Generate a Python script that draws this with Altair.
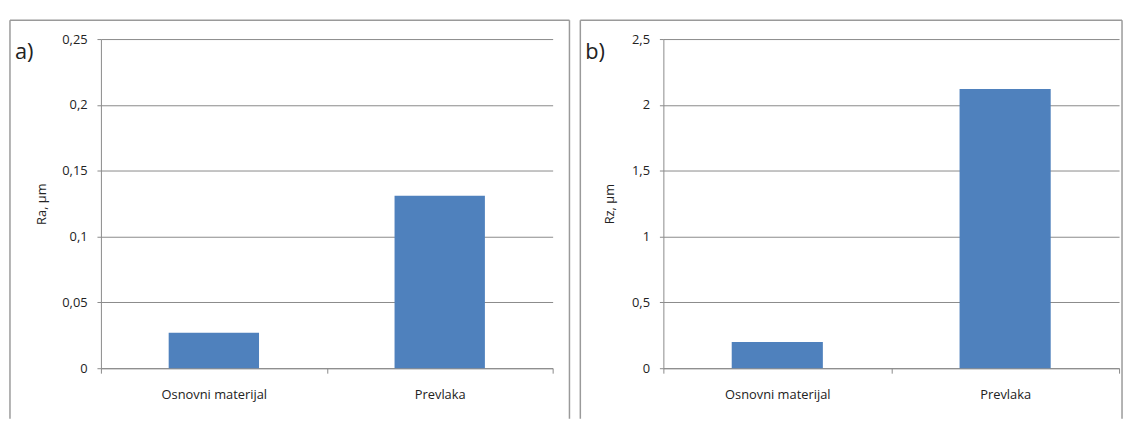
import altair as alt
import pandas as pd

categories = ["Osnovni materijal", "Prevlaka"]
ra_values = [0.027, 0.131]
rz_values = [0.2, 2.12]
ra_ticks = [0, 0.05, 0.1, 0.15, 0.2, 0.25]
rz_ticks = [0, 0.5, 1, 1.5, 2, 2.5]

FONT = "Open Sans"
GRID = "#8a8a8a"
BORDER = "#9a9a9a"
BAR = "#4F81BD"
TXT = "#222222"
H = 333


def panel(values, ticks, ymax, ytitle, letter, width, left_off, title_x, right_off, letter_x):
    df = pd.DataFrame({"cat": categories, "val": values})
    one = pd.DataFrame({"k": [0]})
    bars = alt.Chart(df).mark_bar(color=BAR, width=alt.RelativeBandSize(0.4)).encode(
        x=alt.X("cat:N", sort=categories, title=None,
                scale=alt.Scale(paddingInner=0, paddingOuter=0),
                axis=alt.Axis(labelAngle=0, tickBand="extent", domainColor=GRID,
                              tickColor=GRID, tickSize=5, labelPadding=16,
                              labelFont=FONT, labelFontSize=13, labelColor=TXT,
                              grid=False)),
        y=alt.Y("val:Q", scale=alt.Scale(domain=[0, ymax], nice=False, zero=True),
                axis=alt.Axis(values=ticks, title=ytitle, grid=True, gridColor=GRID,
                              domainColor=GRID, tickColor=GRID, tickSize=4,
                              labelPadding=10, labelFont=FONT, labelFontSize=13,
                              labelColor=TXT,
                              labelExpr="replace(format(datum.value, '~g'), '.', ',')",
                              titleAngle=270, titleX=title_x, titleY=H / 2,
                              titleAlign="center", titleBaseline="middle",
                              titleFont=FONT, titleFontSize=13,
                              titleFontWeight="normal", titleColor=TXT)),
    )
    border_left = alt.Chart(one).mark_rule(color=BORDER, strokeWidth=1.5).encode(
        x=alt.value(left_off), y=alt.value(-19), y2=alt.value(384))
    border_top = alt.Chart(one).mark_rule(color=BORDER, strokeWidth=1.5).encode(
        x=alt.value(left_off), x2=alt.value(right_off), y=alt.value(-19))
    border_right = alt.Chart(one).mark_rule(color=BORDER, strokeWidth=1.5).encode(
        x=alt.value(right_off), y=alt.value(-19), y2=alt.value(384))
    label = alt.Chart(one).mark_text(font=FONT, fontSize=22, align="left",
                                     baseline="middle", color=TXT).encode(
        x=alt.value(letter_x), y=alt.value(13), text=alt.value(letter))
    return alt.layer(border_left, border_top, border_right, bars, label).properties(
        width=width, height=H)


left = panel(ra_values, ra_ticks, 0.25, "Ra, µm", "a)", 457, -92, -60, 474, -87)
right = panel(rz_values, rz_ticks, 2.5, "Rz, µm", "b)", 461, -84, -54, 464, -79)

chart = alt.hconcat(left, right, spacing=7).properties(
    padding={"left": 0, "top": 8, "right": 0, "bottom": 0}
).configure_view(stroke="transparent")

chart.save("out.html", embed_options={"renderer": "svg", "actions": False})
